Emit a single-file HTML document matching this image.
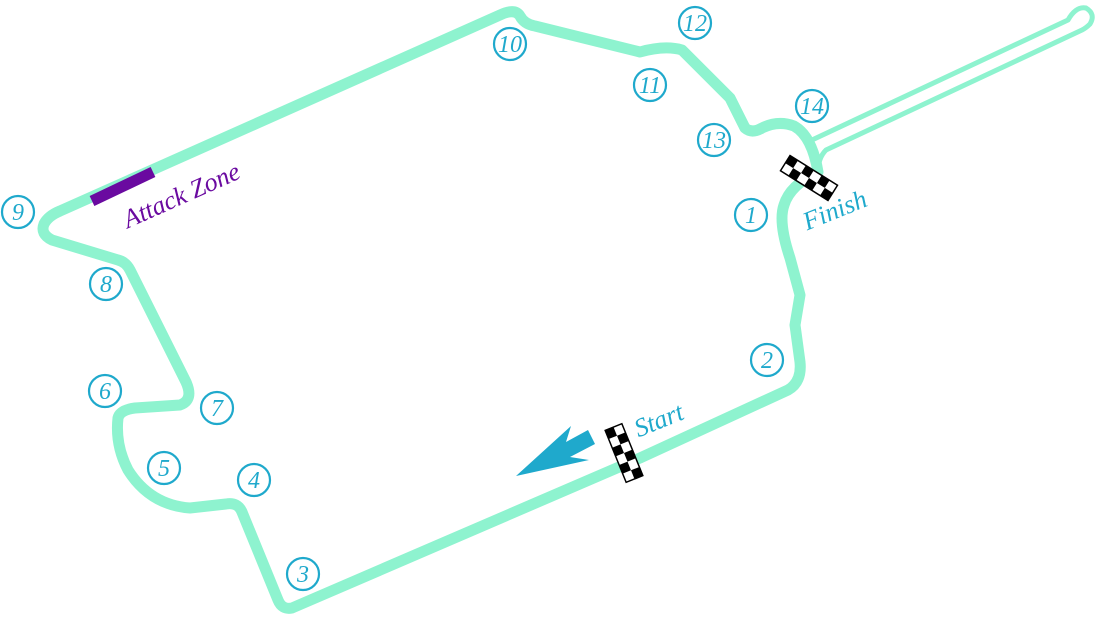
<!DOCTYPE html>
<html><head><style>
html,body{margin:0;padding:0;background:#fff;}
svg{display:block}
.n{font-family:"Liberation Serif",serif;font-style:italic;font-size:24px;fill:#1fa9cc;text-anchor:middle}
circle.c{fill:none;stroke:#1fa9cc;stroke-width:2.2}
</style></head><body>
<svg width="1096" height="618" viewBox="0 0 1096 618" xmlns="http://www.w3.org/2000/svg">
<path d="M812,140 L1068,20 Q1076,6 1086,8 Q1096,14 1090,24 Q1086,28 1082,30 L826,150 Q818,158 818,172" fill="none" stroke="#8ef3cf" stroke-width="5" stroke-linejoin="round"/>
<path d="M818,172 Q790,185 784,205 Q778,222 790,258 L800,295 L795,325 L800,362 Q802,382 788,390 L640,458 L292,608 Q282,610 278,600 L242,512 Q238,502 226,504 L190,508 Q150,505 128,470 Q115,445 118,418 Q120,410 135,408 L180,405 Q194,400 186,382 L130,270 Q126,262 118,260 L52,240 Q40,234 44,224 Q48,216 60,211 L500,15 Q515,8 520,16 Q524,24 535,26 L640,52 Q665,45 682,50 L730,98 L745,128 Q752,134 762,128 Q778,120 794,126 Q812,136 818,172 Z" fill="none" stroke="#8ef3cf" stroke-width="11" stroke-linejoin="round"/>
<line x1="92" y1="201" x2="153" y2="172" stroke="#6a0aa0" stroke-width="11"/>
<text x="185" y="203" transform="rotate(-24 185 203)" font-family="Liberation Serif,serif" font-style="italic" font-size="26" fill="#6a0aa0" text-anchor="middle">Attack Zone</text>
<g transform="translate(809,178) rotate(32)">
<rect x="-28" y="-9" width="56" height="18" fill="#fff" stroke="#000" stroke-width="1.5"/>
<rect x="-28" y="-9" width="9.33" height="9" fill="#000"/><rect x="-9.33" y="-9" width="9.33" height="9" fill="#000"/><rect x="9.33" y="-9" width="9.33" height="9" fill="#000"/>
<rect x="-18.67" y="0" width="9.33" height="9" fill="#000"/><rect x="0" y="0" width="9.33" height="9" fill="#000"/><rect x="18.67" y="0" width="9.33" height="9" fill="#000"/>
</g>
<text x="838" y="218" transform="rotate(-22 838 218)" class="n" style="font-size:26px">Finish</text>
<g transform="translate(624,453) rotate(-22)">
<rect x="-9" y="-28" width="18" height="56" fill="#fff" stroke="#000" stroke-width="1.5"/>
<rect x="-9" y="-28" width="9" height="9.33" fill="#000"/><rect x="0" y="-18.67" width="9" height="9.33" fill="#000"/>
<rect x="-9" y="-9.33" width="9" height="9.33" fill="#000"/><rect x="0" y="0" width="9" height="9.33" fill="#000"/>
<rect x="-9" y="9.33" width="9" height="9.33" fill="#000"/><rect x="0" y="18.67" width="9" height="9.33" fill="#000"/>
</g>
<text x="662" y="428" transform="rotate(-22 662 428)" class="n" style="font-size:26px">Start</text>
<polygon points="516,476 571,426 566,442 588,430 595,444 570,457 589,460" fill="#1fa9cc"/>
<g>
<circle class="c" cx="18" cy="212" r="16"/><text class="n" x="18" y="220">9</text>
<circle class="c" cx="106" cy="284" r="16"/><text class="n" x="106" y="292">8</text>
<circle class="c" cx="105" cy="391" r="16"/><text class="n" x="105" y="399">6</text>
<circle class="c" cx="217" cy="408" r="16"/><text class="n" x="217" y="416">7</text>
<circle class="c" cx="164" cy="468" r="16"/><text class="n" x="164" y="476">5</text>
<circle class="c" cx="254" cy="480" r="16"/><text class="n" x="254" y="488">4</text>
<circle class="c" cx="303" cy="574" r="16"/><text class="n" x="303" y="582">3</text>
<circle class="c" cx="510" cy="44" r="16"/><text class="n" x="510" y="52">10</text>
<circle class="c" cx="650" cy="85" r="16"/><text class="n" x="650" y="93">11</text>
<circle class="c" cx="695" cy="23" r="16"/><text class="n" x="695" y="31">12</text>
<circle class="c" cx="714" cy="140" r="16"/><text class="n" x="714" y="148">13</text>
<circle class="c" cx="812" cy="106" r="16"/><text class="n" x="812" y="114">14</text>
<circle class="c" cx="751" cy="215" r="16"/><text class="n" x="751" y="223">1</text>
<circle class="c" cx="767" cy="360" r="16"/><text class="n" x="767" y="368">2</text>
</g>
</svg>
</body></html>
